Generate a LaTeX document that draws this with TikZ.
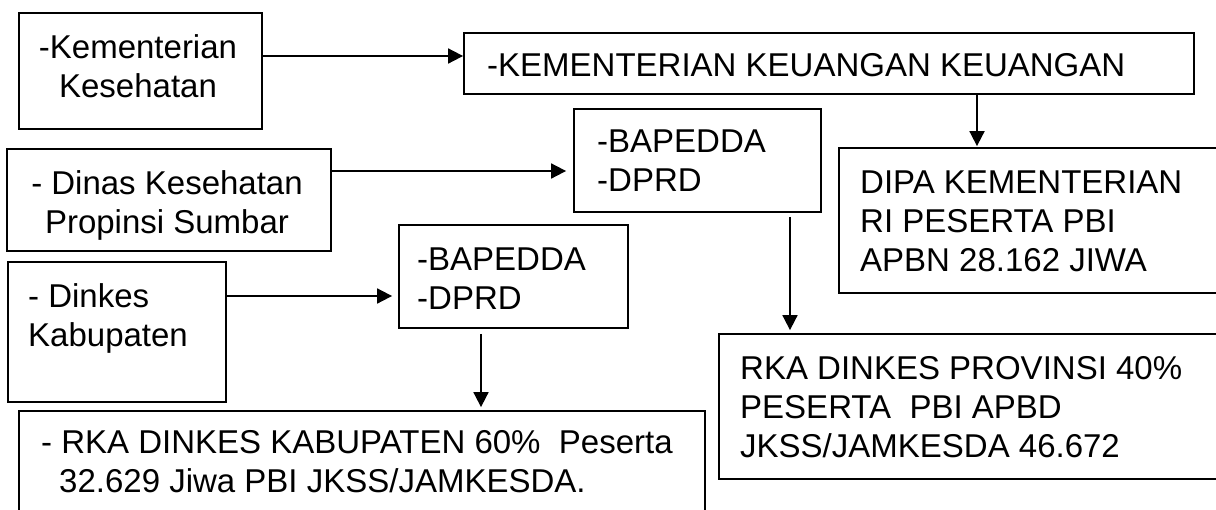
\documentclass[tikz,border=0pt]{standalone}
\usepackage{fontspec}
\setmainfont{Liberation Sans}
\usetikzlibrary{arrows.meta}
\begin{document}
\begin{tikzpicture}[x=1pt,y=-1pt,
  box/.style={draw=black, line width=1.8pt, inner sep=0pt},
  lbl/.style={inner sep=0pt, font=\fontsize{33}{39}\selectfont, align=left, anchor=base west},
  clbl/.style={inner sep=0pt, font=\fontsize{33}{39}\selectfont, align=center, anchor=base},
  arr/.style={line width=1.8pt, -{Triangle[length=15pt,width=15pt]}}
]
\clip (0,0) rectangle (1216,509);
\fill[white] (0,0) rectangle (1216,509);
% boxes
\node[box, minimum width=243pt, minimum height=116pt] (A) at (140.5,71) {};
\node[box, minimum width=730pt, minimum height=61pt] (C) at (829,63.5) {};
\node[box, minimum width=324pt, minimum height=102pt] (B) at (169,200) {};
\node[box, minimum width=247pt, minimum height=103pt] (D) at (697.5,160.5) {};
\node[box, minimum width=391pt, minimum height=145pt] (E) at (1034.5,220.5) {};
\node[box, minimum width=218pt, minimum height=140pt] (F) at (117,332) {};
\node[box, minimum width=229pt, minimum height=103pt] (G) at (513.5,276.5) {};
\node[box, minimum width=511pt, minimum height=145pt] (H) at (974.5,406.5) {};
\node[box, minimum width=686pt, minimum height=119pt] (I) at (362,470.5) {};
% texts (anchor = baseline of the last line)
\node[clbl] (tA) at (138,97) {-Kementerian\\Kesehatan};
\node[lbl] (tC) at (487,76) {-KEMENTERIAN KEUANGAN KEUANGAN};
\node[clbl] (tB) at (167,233) {- Dinas Kesehatan\\Propinsi Sumbar};
\node[lbl] (tD) at (597,191) {-BAPEDDA\\-DPRD};
\node[lbl] (tE) at (860,271) {DIPA KEMENTERIAN\\RI PESERTA PBI\\APBN 28.162 JIWA};
\node[lbl] (tF) at (28,346) {- Dinkes\\Kabupaten};
\node[lbl] (tG) at (417,309) {-BAPEDDA\\-DPRD};
\node[lbl] (tH) at (740,457) {RKA DINKES PROVINSI 40\%\\PESERTA\ \ PBI APBD\\JKSS/JAMKESDA 46.672};
\node[lbl] (tI) at (41,492) {- RKA DINKES KABUPATEN 60\%\ \ Peserta\\\hspace*{18pt}32.629 Jiwa PBI JKSS/JAMKESDA.};
% connectors
\coordinate (yAC) at (0,56);
\coordinate (yBD) at (0,171);
\coordinate (yFG) at (0,296);
\coordinate (xCE) at (977,0);
\coordinate (xDH) at (790,0);
\coordinate (xGI) at (481,0);
\draw[arr] (A.east |- yAC) -- (C.west |- yAC);
\draw[arr, shorten >=7pt] (B.east |- yBD) -- (D.west |- yBD);
\draw[arr, shorten >=6pt] (F.east |- yFG) -- (G.west |- yFG);
\draw[arr, shorten >=1pt] (C.south -| xCE) -- (E.north -| xCE);
\draw[arr, shorten <=4pt, shorten >=3pt] (D.south -| xDH) -- (H.north -| xDH);
\draw[arr, shorten <=5pt, shorten >=3pt] (G.south -| xGI) -- (I.north -| xGI);
\end{tikzpicture}
\end{document}
